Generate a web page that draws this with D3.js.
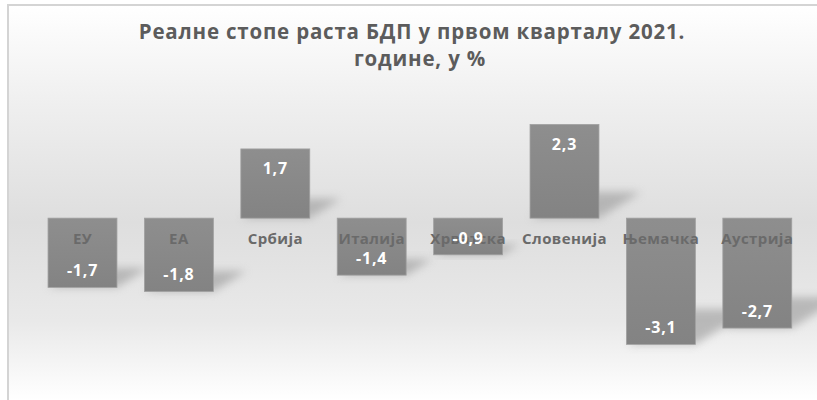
<!DOCTYPE html>
<html>
<head>
<meta charset="utf-8">
<script src="https://cdn.jsdelivr.net/npm/d3@7/dist/d3.min.js"></script>
<style>
  html, body { margin: 0; padding: 0; background: #ffffff; }
  svg { display: block; }
</style>
</head>
<body>
<div id="chart"></div>
<script>
// Real GDP growth, Q1 2021, %
const categories = ["ЕУ", "ЕА", "Србија", "Италија", "Хрватска", "Словенија", "Њемачка", "Аустрија"];
const values = [-1.7, -1.8, 1.7, -1.4, -0.9, 2.3, -3.1, -2.7];
const valueLabels = ["-1,7", "-1,8", "1,7", "-1,4", "-0,9", "2,3", "-3,1", "-2,7"];
const titleLines = ["Реалне стопе раста БДП у првом кварталу 2021.", "године, у %"];

const W = 817, H = 400;
const FONT = "'Open Sans', 'Noto Sans', sans-serif";

const svg = d3.select("#chart").append("svg")
  .attr("width", W).attr("height", H);

const defs = svg.append("defs");
const bg = defs.append("linearGradient").attr("id", "bg")
  .attr("x1", 0).attr("y1", 0).attr("x2", 0).attr("y2", 1);
bg.append("stop").attr("offset", "0%").attr("stop-color", "#ffffff");
bg.append("stop").attr("offset", "25%").attr("stop-color", "#efefef");
bg.append("stop").attr("offset", "55%").attr("stop-color", "#dedede");
bg.append("stop").attr("offset", "80%").attr("stop-color", "#e9e9e9");
bg.append("stop").attr("offset", "100%").attr("stop-color", "#ffffff");

const barGrad = defs.append("linearGradient").attr("id", "barFill")
  .attr("x1", 0).attr("y1", 0).attr("x2", 0).attr("y2", 1);
barGrad.append("stop").attr("offset", "0%").attr("stop-color", "#8e8e8e");
barGrad.append("stop").attr("offset", "100%").attr("stop-color", "#838383");

defs.append("filter").attr("id", "soft")
  .attr("x", "-50%").attr("y", "-50%").attr("width", "200%").attr("height", "200%")
  .append("feGaussianBlur").attr("stdDeviation", 4);

// chart area background and frame
svg.append("rect").attr("x", 8).attr("y", 5).attr("width", W - 8).attr("height", H - 5)
  .attr("fill", "url(#bg)");
svg.append("path").attr("d", `M8,${H} V5 H${W}`)
  .attr("fill", "none").attr("stroke", "#d4d4d4").attr("stroke-width", 2);

// title
const title = svg.append("text")
  .attr("text-anchor", "middle")
  .attr("font-family", FONT).attr("font-weight", 700)
  .attr("font-size", 20.5).attr("letter-spacing", 0.8).attr("fill", "#5c5c5c");
title.selectAll("tspan").data(titleLines).join("tspan")
  .attr("x", (d, i) => i === 0 ? 412 : 420)
  .attr("y", (d, i) => 39 + i * 27)
  .text(d => d);

// scales
const x = d3.scaleBand().domain(categories)
  .range([34.3, 805.5]).paddingInner(0.285).paddingOuter(0.1425);
const y = d3.scaleLinear().domain([-4, 3]).range([381, 96]);

const data = categories.map((c, i) => ({ c, v: values[i], label: valueLabels[i] }));

// soft cast shadows behind the bars
const k = 0.45, lift = 0.28;
svg.append("g").selectAll("path").data(data).join("path")
  .attr("d", d => {
    const x0 = x(d.c), x1 = x0 + x.bandwidth();
    const yt = Math.min(y(d.v), y(0)), yb = Math.max(y(d.v), y(0));
    const h = yb - yt;
    return `M${x0},${yb} L${x1},${yb} L${x1 + h * k},${yb - h * lift} L${x0 + h * k},${yb - h * lift} Z`;
  })
  .attr("fill", "#999999").attr("opacity", 0.6)
  .attr("filter", "url(#soft)");

// bars
svg.append("g").selectAll("rect").data(data).join("rect")
  .attr("x", d => x(d.c))
  .attr("y", d => Math.min(y(d.v), y(0)))
  .attr("width", x.bandwidth())
  .attr("height", d => Math.abs(y(d.v) - y(0)))
  .attr("fill", "url(#barFill)")
  .attr("stroke", "#a0a0a0").attr("stroke-width", 0.8);

// category axis along the zero line
const axis = svg.append("g")
  .attr("transform", `translate(0,${y(0)})`)
  .call(d3.axisBottom(x).tickSize(0).tickPadding(15));
axis.select(".domain").remove();
axis.selectAll("text")
  .attr("font-family", FONT).attr("font-weight", 700)
  .attr("font-size", 15).attr("letter-spacing", 0.4).attr("fill", "#6a6a6a");

// value labels at the inside end of each bar
svg.append("g").selectAll("text").data(data).join("text")
  .attr("x", d => x(d.c) + x.bandwidth() / 2)
  .attr("y", d => d.v >= 0 ? y(d.v) + 25 : y(d.v) - 11)
  .attr("text-anchor", "middle")
  .attr("font-family", FONT).attr("font-weight", 700)
  .attr("font-size", 16).attr("letter-spacing", 0.8).attr("fill", "#ffffff")
  .text(d => d.label);
</script>
</body>
</html>
